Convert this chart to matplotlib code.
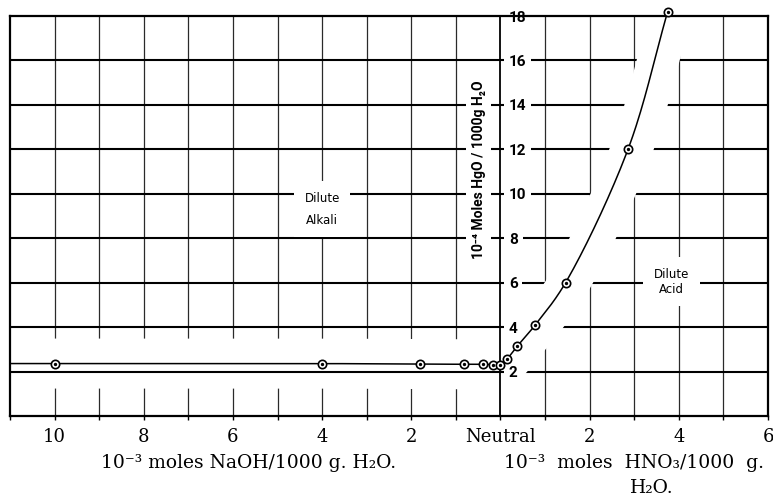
import numpy as np
import matplotlib.pyplot as plt

# signed concentration: NaOH negative (left), HNO3 positive (right), 10^-3 mol / 1000 g H2O
conc = [-10, -4, -1.8, -0.82, -0.4, -0.16, 0.0, 0.14, 0.38, 0.78, 1.46, 2.86, 3.75]
# solubility, 10^-4 mol HgO / 1000 g H2O
solub = [2.36, 2.36, 2.33, 2.33, 2.33, 2.31, 2.31, 2.55, 3.15, 4.1, 6.0, 12.0, 18.2]

x_ticks = [-10, -8, -6, -4, -2, 0, 2, 4, 6]
x_labels = ["10", "8", "6", "4", "2", "Neutral", "2", "4", "6"]
y_ticks = [2, 4, 6, 8, 10, 12, 14, 16, 18]

narrow = ["Roboto", "DejaVu Sans"]
serif = ["DejaVu Serif"]


def catmull_rom(P, n=30):
    # centripetal Catmull-Rom, used only to draw the smooth connecting line
    P = np.vstack([2 * P[0] - P[1], P, 2 * P[-1] - P[-2]])
    out = []
    for i in range(1, len(P) - 2):
        p0, p1, p2, p3 = P[i - 1], P[i], P[i + 1], P[i + 2]
        t0 = 0.0
        t1 = t0 + np.linalg.norm(p1 - p0) ** 0.5
        t2 = t1 + np.linalg.norm(p2 - p1) ** 0.5
        t3 = t2 + np.linalg.norm(p3 - p2) ** 0.5
        t = np.linspace(t1, t2, n)[:, None]
        A1 = (t1 - t) / (t1 - t0) * p0 + (t - t0) / (t1 - t0) * p1
        A2 = (t2 - t) / (t2 - t1) * p1 + (t - t1) / (t2 - t1) * p2
        A3 = (t3 - t) / (t3 - t2) * p2 + (t - t2) / (t3 - t2) * p3
        B1 = (t2 - t) / (t2 - t0) * A1 + (t - t0) / (t2 - t0) * A2
        B2 = (t3 - t) / (t3 - t1) * A2 + (t - t1) / (t3 - t1) * A3
        out.append((t2 - t) / (t2 - t1) * B1 + (t - t1) / (t2 - t1) * B2)
    return np.vstack(out)


fig = plt.figure(figsize=(7.73, 5.01), dpi=100)
ax = fig.add_axes([10 / 773, 85 / 501, 758 / 773, 400 / 501])
ax.set_xlim(-11, 6)
ax.set_ylim(0, 18)

# grid: vertical thin (under the clearance band), horizontal heavier
xg = [v for v in range(-10, 6) if v != 0]
ax.vlines(xg, 0, 18, color="#2a2a2a", lw=0.9, zorder=1)

# smooth line through the points (display space), extended flat to the left frame
xs = np.array([ax.get_xlim()[0]] + conc)
ys = np.array([solub[0]] + solub)
disp = ax.transData.transform(np.column_stack([xs, ys]))
curve = ax.transData.inverted().transform(catmull_rom(disp))
flat = curve[curve[:, 0] <= 0.02]
rise = curve[curve[:, 0] >= 0.06]

# white clearance around the data line, as in the drafted original
ax.plot(flat[:, 0], flat[:, 1], color="white", lw=36, solid_capstyle="butt", zorder=1.5)
ax.hlines(y_ticks[:-1], -11, 6, color="black", lw=1.5, zorder=2)
ax.plot(rise[:, 0] + 0.08, rise[:, 1], color="white", lw=30, solid_capstyle="butt", zorder=2.5)

# frame and central axis
for side in ["left", "top", "bottom", "right"]:
    ax.spines[side].set_linewidth(1.6)
    ax.spines[side].set_zorder(4)
ax.spines["right"].set_position(("data", 0))
ax.spines["right"].set_linewidth(1.3)
ax.axvline(6, color="black", lw=1.6, zorder=4, clip_on=False)

ax.yaxis.set_ticks_position("right")
ax.set_yticks(y_ticks)
ax.set_yticklabels([str(v) for v in y_ticks], fontfamily=narrow, fontweight="bold", fontsize=11)
ax.tick_params(axis="y", direction="inout", length=8, width=1.3, pad=2)
for lbl in ax.get_yticklabels():
    lbl.set_bbox(dict(facecolor="white", edgecolor="none", pad=3.5))
ax.yaxis.set_zorder(3.5)

ax.set_xticks(x_ticks)
ax.set_xticklabels(x_labels, fontfamily=serif, fontsize=13)
ax.set_xticks(range(-11, 7), minor=True)
ax.tick_params(axis="x", which="both", direction="out", length=3, width=1.0, pad=6)

# data line and points
ax.plot(curve[:, 0], curve[:, 1], color="black", lw=1.1, zorder=5, clip_on=False)
ax.plot(conc, solub, "o", ms=6, mfc="white", mec="black", mew=1.2, zorder=6, clip_on=False)
ax.plot(conc, solub, "o", ms=1.4, color="black", zorder=7, clip_on=False)

# annotations
box = dict(facecolor="white", edgecolor="none", boxstyle="square,pad=0.9")
ax.text(-4.0, 9.3, "Dilute\nAlkali", ha="center", va="center", fontsize=8.5,
        family="DejaVu Sans", linespacing=1.9, bbox=box, zorder=3)
ax.text(3.83, 6.05, "Dilute\nAcid", ha="center", va="center", fontsize=8.5,
        family="DejaVu Sans", linespacing=1.2, bbox=box, zorder=3)
ax.text(-0.49, 11.1, "10\u207b\u2074 Moles HgO / 1000g H\u2082O", rotation=90,
        ha="center", va="center", fontsize=10, fontweight="bold", family=narrow,
        bbox=dict(facecolor="white", edgecolor="none", pad=4), zorder=3)

# axis titles under each half
tr = ax.get_xaxis_transform()
ax.text(-5.65, -0.118, "10\u207b\u00b3 moles NaOH/1000 g. H\u2082O.", ha="center", va="center",
        fontsize=13.5, family=serif, transform=tr)
ax.text(2.99, -0.118, "10\u207b\u00b3  moles  HNO\u2083/1000  g.", ha="center", va="center",
        fontsize=13.5, family=serif, transform=tr)
ax.text(3.4, -0.18, "H\u2082O.", ha="center", va="center", fontsize=13.5, family=serif, transform=tr)

fig.savefig("out.png", dpi=100)
